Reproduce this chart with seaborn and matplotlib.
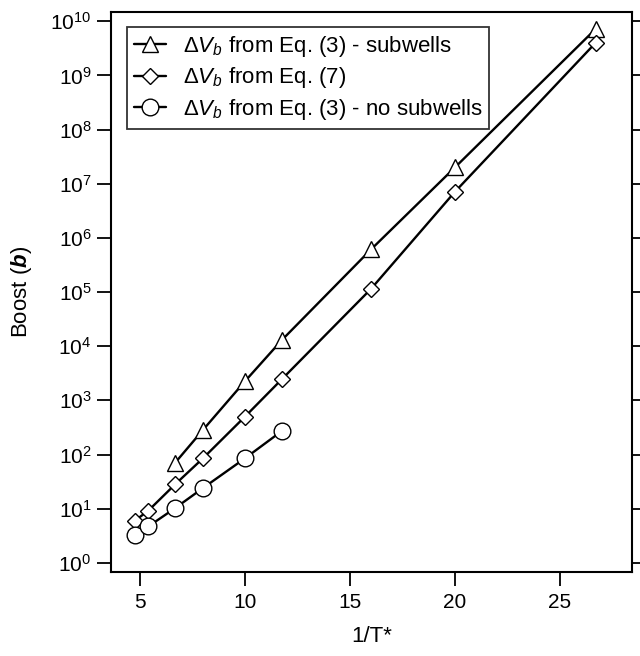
import matplotlib
matplotlib.use("Agg")
import matplotlib.pyplot as plt
import pandas as pd
import seaborn as sns

# 1/T* values and boost for each series
x_sub = [6.67, 8.0, 10.0, 11.76, 16.0, 20.0, 26.7]
b_sub = [70, 284, 2250, 13000, 6.1e5, 2.0e7, 7.2e9]

x_eq7 = [4.76, 5.4, 6.67, 8.0, 10.0, 11.76, 16.0, 20.0, 26.7]
b_eq7 = [6.0, 9.2, 28, 85, 500, 2460, 1.14e5, 7.1e6, 4.0e9]

x_nosub = [4.76, 5.4, 6.67, 8.0, 10.0, 11.76]
b_nosub = [3.3, 4.7, 10.2, 24, 85, 272]

labels = [r"$\Delta V_b$ from Eq. (3) - subwells",
          r"$\Delta V_b$ from Eq. (7)",
          r"$\Delta V_b$ from Eq. (3) - no subwells"]

sns.set_style("ticks")
plt.rcParams["font.family"] = ["Liberation Sans", "DejaVu Sans"]
plt.rcParams["text.color"] = "black"
plt.rcParams["axes.labelcolor"] = "black"
plt.rcParams["mathtext.fontset"] = "custom"
plt.rcParams["mathtext.rm"] = "Liberation Sans"
plt.rcParams["mathtext.it"] = "Liberation Sans:italic"
plt.rcParams["mathtext.bf"] = "Liberation Sans:bold"
plt.rcParams["mathtext.bfit"] = "Liberation Sans:bold:italic"

fig = plt.figure(figsize=(6.4, 6.56), dpi=100)
ax = fig.add_axes([0.1734, 0.128, 0.8141, 0.8537])

series = [
    (x_sub, b_sub, "^", 12),
    (x_eq7, b_eq7, "D", 8),
    (x_nosub, b_nosub, "o", 12),
]
for (xs, ys, m, ms), lab in zip(series, labels):
    df = pd.DataFrame({"x": xs, "b": ys})
    sns.lineplot(data=df, x="x", y="b", ax=ax, color="black", lw=1.7,
                 marker=m, markersize=ms, markerfacecolor="white",
                 markeredgecolor="black", markeredgewidth=1.0, label=lab)

ax.set_yscale("log")
ax.set_xlim(3.62, 28.43)
ax.set_ylim(10**-0.17, 10**10.17)
ax.set_yticks([10**i for i in range(11)])
ax.set_yticklabels([rf"$10^{{{i}}}$" for i in range(11)])
ax.yaxis.set_minor_locator(matplotlib.ticker.NullLocator())
ax.set_xticks([5, 10, 15, 20, 25])

ax.tick_params(axis="both", direction="out", length=10, width=1.3,
               labelsize=15, colors="black")
ax.tick_params(axis="x", pad=5)
ax.tick_params(axis="y", right=True, left=True, labelright=False, pad=4)
for s in ax.spines.values():
    s.set_linewidth(1.5)
    s.set_color("black")

ax.set_xlabel("1/T*", fontsize=16, labelpad=10)
ax.set_ylabel(r"Boost ($\mathbfit{b}$)", fontsize=16, labelpad=12)

leg = ax.legend(loc="upper left", bbox_to_anchor=(0.031, 0.973), fontsize=16,
                frameon=True, fancybox=False, edgecolor="black",
                handlelength=1.45, handletextpad=0.75, borderpad=0.3,
                labelspacing=0.3, borderaxespad=0.0)
leg.get_frame().set_linewidth(1.3)
for t in leg.get_texts():
    t.set_color("black")

fig.savefig("out.png", dpi=100)
